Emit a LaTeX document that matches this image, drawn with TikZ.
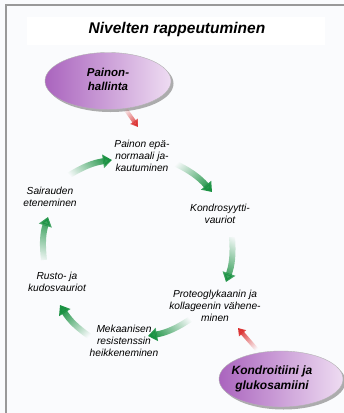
\documentclass[tikz,border=0pt]{standalone}
\usepackage{fontspec}
\setmainfont{Liberation Sans}
\usetikzlibrary{arrows.meta,shadows,fadings,shapes.geometric}
\tikzfading[name=tailfade, left color=transparent!100, right color=transparent!0]
\definecolor{bgcol}{RGB}{250,251,253}
\definecolor{gcol}{RGB}{25,145,65}
\definecolor{rcol}{RGB}{220,50,50}
\definecolor{purpL}{RGB}{170,100,190}
\definecolor{purpM}{RGB}{220,175,225}
\definecolor{purpR}{RGB}{238,220,242}
\begin{document}
\begin{tikzpicture}[x=1pt,y=-1pt,
  lbl/.style={font=\itshape\fontsize{10.2}{11.7}\selectfont, align=center, inner sep=0pt},
  titlestyle/.style={font=\bfseries\itshape\fontsize{15.5}{17}\selectfont, inner sep=0pt},
  oval/.style={ellipse, draw=gray!60, left color=purpL, middle color=purpM, right color=purpR,
     drop shadow={shadow xshift=2.5pt, shadow yshift=-2.5pt, fill=gray!80, opacity=.8},
     inner sep=0pt},
  ovaltext/.style={align=center, inner sep=0pt},
  garrow/.style={line width=6pt, draw=gcol, -{Triangle[length=9pt,width=13pt]}, path fading=tailfade},
  rarrow/.style={line width=4pt, draw=rcol, -{Triangle[length=7pt,width=9pt]}, path fading=tailfade}
]
\useasboundingbox (0,0) rectangle (344,413);
\fill[bgcol] (0,0) rectangle (344,413);
\draw[gray!80, line width=1.2pt] (6,413) -- (6,5) -- (344,5);
\fill[white] (27,17) rectangle (325,45);
\node[titlestyle] (title) at (177,29) {Nivelten rappeutuminen};

\node[oval, minimum width=126pt, minimum height=57pt] (weight) at (108,81) {};
\node[ovaltext, font=\bfseries\itshape\fontsize{11.5}{14}\selectfont] (weightt) at (108,79) {Painon-\\hallinta};
\node[oval, minimum width=124pt, minimum height=56pt] (kg) at (281,379) {};
\node[ovaltext, font=\bfseries\itshape\fontsize{12}{15}\selectfont] (kgt) at (272,379) {Kondroitiini ja\\glukosamiini};

\node[lbl] (pn) at (142,156) {Painon epä-\\normaali ja-\\kautuminen};
\node[lbl] (sa) at (50,197) {Sairauden\\eteneminen};
\node[lbl] (ko) at (220,214) {Kondrosyytti-\\vauriot};
\node[lbl] (ru) at (57,282) {Rusto- ja\\kudosvauriot};
\node[lbl] (pr) at (215,306) {Proteoglykaanin ja\\kollageenin vähene-\\minen};
\node[lbl] (me) at (124,341) {Mekaanisen\\resistenssin\\heikkeneminen};

\coordinate (g1s) at (68,176); \coordinate (g1e) at (112,160);
\coordinate (g2s) at (172,162); \coordinate (g2e) at (212,192);
\coordinate (g3s) at (232,237); \coordinate (g3e) at (226,282);
\coordinate (g4s) at (192,318); \coordinate (g4e) at (148,336);
\coordinate (g5s) at (92,338); \coordinate (g5e) at (60,305);
\coordinate (g6s) at (44,260); \coordinate (g6e) at (48,217);

\draw[garrow, fading angle=20] (g1s) to[bend left=12] (g1e);
\draw[garrow, fading angle=-37] (g2s) to[bend left=12] (g2e);
\draw[garrow, fading angle=-98] (g3s) to[bend left=12] (g3e);
\draw[garrow, fading angle=203] (g4s) to[bend left=12] (g4e);
\draw[garrow, fading angle=133] (g5s) to[bend left=12] (g5e);
\draw[garrow, fading angle=86] (g6s) to[bend left=12] (g6e);

\coordinate (r1s) at (124,107); \coordinate (r1e) at (138,127);
\coordinate (r2s) at (258,351); \coordinate (r2e) at (238,328);
\draw[rarrow, fading angle=-54] (r1s) -- (r1e);
\draw[rarrow, fading angle=132] (r2s) -- (r2e);
\end{tikzpicture}
\end{document}
